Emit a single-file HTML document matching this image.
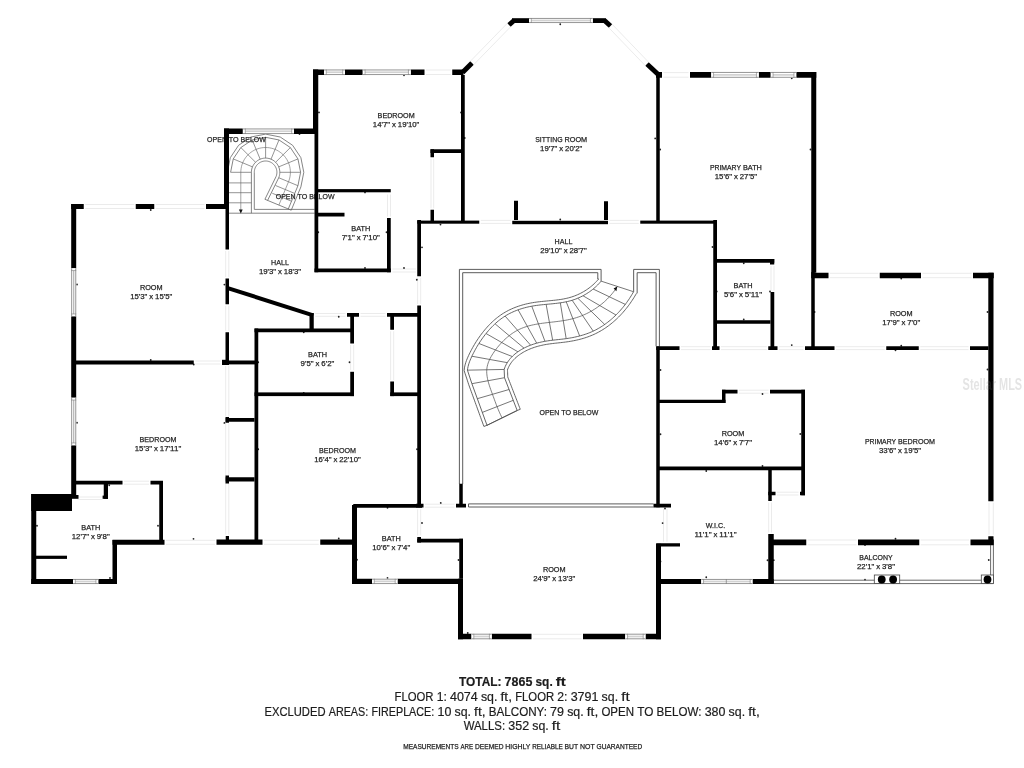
<!DOCTYPE html>
<html lang="en">
<head>
<meta charset="utf-8">
<title>Floor Plan</title>
<style>
html,body{margin:0;padding:0;background:#fff;}
body{width:1024px;height:768px;overflow:hidden;}
svg{display:block;filter:blur(0.4px);}
</style>
</head>
<body>
<svg width="1024" height="768" viewBox="0 0 1024 768">
<rect width="1024" height="768" fill="#fff"/>
<g fill="none" stroke="#e6e6e6" stroke-width="0.8">
<path d="M85.25 204.5H134.25M85.25 208.5H134.25"/>
<path d="M155.75 204.5H204.5M155.75 208.5H204.5"/>
<path d="M225.7 251V277M228.8 251V277"/>
<path d="M225.7 305.75V330.75M228.8 305.75V330.75"/>
<path d="M195.25 361H220.5M195.25 364H220.5"/>
<path d="M225.7 366V416.5M228.8 366V416.5"/>
<path d="M225.7 423.25V475.75M228.8 423.25V475.75"/>
<path d="M225.7 483V534.5M228.8 483V534.5"/>
<path d="M77.5 497H102.5M77.5 499.5H102.5"/>
<path d="M124 481.2H149M124 484.2H149"/>
<path d="M166 540.3H215M166 544.3H215"/>
<path d="M264 540.3H318.75M264 544.3H318.75"/>
<path d="M426 70H450.75M426 74.5H450.75"/>
<path d="M431 158.75V208.25M433.7 158.75V208.25"/>
<path d="M387.5 194.5V216.5M390.5 194.5V216.5"/>
<path d="M392.5 269H416M392.5 272H416"/>
<path d="M417.6 277.75V304M420.7 277.75V304"/>
<path d="M315.25 313.5H345.5M315.25 316.3H345.5"/>
<path d="M360.5 313.5H385.5M360.5 316.3H385.5"/>
<path d="M350.6 345V370M353.7 345V370"/>
<path d="M390.6 331.25V380M393.7 331.25V380"/>
<path d="M417.6 509.25V535.5M420.7 509.25V535.5"/>
<path d="M480.75 220.4H510.75M480.75 223.4H510.75"/>
<path d="M609.5 220.4H638.75M609.5 223.4H638.75"/>
<path d="M663.5 72.6H688.5M663.5 77.2H688.5"/>
<path d="M771 266V290.5M774 266V290.5"/>
<path d="M681 346.7H710.5M681 349.6H710.5"/>
<path d="M721 346.7H766.75M721 349.6H766.75"/>
<path d="M779 346.7H803.5M779 349.6H803.5"/>
<path d="M836 346.7H884.75M836 349.6H884.75"/>
<path d="M920.25 346.7H968.5M920.25 349.6H968.5"/>
<path d="M830 273.3H878.25M830 277.7H878.25"/>
<path d="M922.5 273.3H971.5M922.5 277.7H971.5"/>
<path d="M989 502.75V534.75M993.3 502.75V534.75"/>
<path d="M739 390.2H768.5M739 393.2H768.5"/>
<path d="M777 492.2H798.5M777 495H798.5"/>
<path d="M768.7 502.5V532.5M771.5 502.5V532.5"/>
<path d="M663.5 508.75V541.75M667 508.75V541.75"/>
<path d="M807.75 540H856.5M807.75 544.8H856.5"/>
<path d="M920.75 540H969M920.75 544.8H969"/>
<path d="M533 634.3H581.5M533 638.8H581.5"/>
<path d="M425 504.2H454.5M425 507.2H454.5"/>
</g>
<g fill="none" stroke="#4a4a4a" stroke-linejoin="round"><path d="M601.11 281.14L633.57 291.72M593.14 289.03L625.27 304.4M582.98 295.75L615.97 315M577.81 298.21L604.68 324.46M572.13 300.27L593.22 331.12M566.24 301.79L579.65 335.96M560.32 302.83L566.18 338.63M546.14 304.36L552.67 340.2M531.78 306.18L544.97 341.31M518.14 309.83L536.71 343.18M505.11 316.08L530.6 345.18M495.06 323.8L523.97 348.12M486.04 333.53L517.93 351.77M478.93 343.49L512.22 356.5M471.91 356.23L507.27 362.65M467.45 370.17L504.17 369.44M471.9 383.7L504.5 377.7M477.34 398.68L509.07 389.51M482.32 412.4L513.26 400.33M487 425.3L517.2 410.5" stroke-width="0.75"/><path d="M617.46 286.39 L616.45 287.93 L615.4 289.44 L614.32 290.92 L613.2 292.37 L612.05 293.78 L610.87 295.17 L609.66 296.53 L608.41 297.85 L607.14 299.14 L605.83 300.4 L604.5 301.63 L603.14 302.82 L601.75 303.98 L600.34 305.11 L598.9 306.2 L597.43 307.26 L595.95 308.28 L594.43 309.26 L592.9 310.21 L591.34 311.12 L589.77 312 L588.17 312.84 L586.55 313.64 L584.92 314.4 L583.27 315.12 L581.6 315.81 L579.91 316.45 L578.21 317.06 L576.49 317.62 L574.76 318.15 L573.02 318.63 L571.26 319.08 L569.5 319.48 L567.72 319.85 L565.93 320.19 L564.14 320.5 L562.34 320.79 L560.53 321.05 L558.72 321.3 L556.9 321.53 L555.08 321.75 L553.26 321.97 L551.44 322.18 L549.63 322.38 L547.81 322.59 L546 322.81 L544.19 323.04 L542.39 323.27 L540.59 323.53 L538.8 323.8 L537.02 324.1 L535.26 324.42 L533.5 324.77 L531.75 325.15 L530.02 325.57 L528.3 326.03 L526.6 326.53 L524.91 327.08 L523.25 327.68 L521.6 328.33 L519.97 329.04 L518.36 329.8 L516.78 330.63 L515.22 331.52 L513.68 332.47 L512.17 333.48 L510.68 334.54 L509.22 335.65 L507.79 336.81 L506.39 338.02 L505.01 339.26 L503.67 340.55 L502.35 341.87 L501.07 343.23 L499.82 344.62 L498.61 346.03 L497.43 347.47 L496.28 348.94 L495.17 350.42 L494.1 351.92 L493.07 353.44 L492.09 354.97 L491.17 356.52 L490.31 358.09 L489.52 359.68 L488.82 361.29 L488.21 362.92 L487.69 364.57 L487.27 366.24 L486.96 367.94 L486.78 369.66 L486.71 371.4 L486.76 373.16 L486.92 374.94 L487.16 376.73 L487.49 378.54 L487.9 380.35 L488.36 382.16 L488.88 383.97 L489.45 385.78 L490.05 387.58 L490.67 389.36 L491.31 391.14 L491.95 392.89 L492.59 394.62 L493.21 396.33 L493.83 398.02 L494.44 399.7 L495.05 401.36 L495.66 403 L496.28 404.64 L496.92 406.28 L497.57 407.92 L498.25 409.55 L498.94 411.2 L499.67 412.85 L500.44 414.52 L501.24 416.2 L502.08 417.9" stroke-width="0.7"/><path d="M601.11 281.14 L600 282.44 L598.85 283.72 L597.65 284.96 L596.41 286.16 L595.13 287.33 L593.82 288.47 L592.47 289.57 L591.08 290.64 L589.66 291.66 L588.22 292.65 L586.74 293.59 L585.24 294.5 L583.71 295.36 L582.16 296.18 L580.59 296.96 L579 297.69 L577.4 298.38 L575.78 299.02 L574.14 299.61 L572.5 300.16 L570.84 300.65 L569.18 301.1 L567.51 301.51 L565.83 301.87 L564.14 302.2 L562.45 302.5 L560.75 302.77 L559.04 303.01 L557.33 303.23 L555.62 303.43 L553.9 303.62 L552.17 303.8 L550.45 303.96 L548.72 304.12 L546.99 304.28 L545.26 304.45 L543.52 304.62 L541.79 304.79 L540.06 304.98 L538.33 305.19 L536.6 305.42 L534.87 305.67 L533.14 305.94 L531.42 306.25 L529.7 306.59 L527.98 306.96 L526.27 307.37 L524.57 307.81 L522.88 308.28 L521.2 308.79 L519.53 309.34 L517.88 309.92 L516.24 310.54 L514.62 311.2 L513.02 311.89 L511.44 312.62 L509.88 313.39 L508.35 314.2 L506.84 315.05 L505.35 315.93 L503.89 316.86 L502.47 317.83 L501.06 318.83 L499.69 319.87 L498.34 320.95 L497.02 322.06 L495.72 323.2 L494.45 324.37 L493.2 325.57 L491.98 326.8 L490.78 328.05 L489.61 329.33 L488.46 330.63 L487.33 331.96 L486.22 333.31 L485.14 334.67 L484.08 336.06 L483.04 337.46 L482.02 338.88 L481.02 340.32 L480.05 341.77 L479.1 343.23 L478.17 344.71 L477.26 346.2 L476.38 347.71 L475.52 349.23 L474.68 350.75 L473.87 352.29 L473.08 353.83 L472.31 355.39 L471.57 356.95 L470.86 358.52 L470.18 360.1 L469.55 361.7 L468.98 363.33 L468.47 364.99 L468.05 366.67 L467.7 368.4 L467.45 370.17 L471.9 383.7 L487 425.3" stroke-width="0.85"/><path d="M633.57 291.72 L632.79 293.1 L631.99 294.46 L631.16 295.82 L630.32 297.17 L629.45 298.51 L628.55 299.84 L627.64 301.16 L626.71 302.47 L625.75 303.77 L624.77 305.05 L623.77 306.32 L622.75 307.57 L621.71 308.81 L620.65 310.04 L619.57 311.24 L618.48 312.43 L617.36 313.6 L616.22 314.75 L615.06 315.88 L613.88 316.99 L612.69 318.08 L611.48 319.15 L610.25 320.19 L609 321.21 L607.73 322.21 L606.45 323.18 L605.15 324.13 L603.83 325.05 L602.49 325.94 L601.14 326.8 L599.77 327.64 L598.39 328.44 L596.99 329.22 L595.58 329.96 L594.15 330.67 L592.7 331.35 L591.25 332 L589.77 332.62 L588.29 333.2 L586.79 333.75 L585.28 334.28 L583.76 334.77 L582.23 335.24 L580.69 335.68 L579.14 336.1 L577.59 336.49 L576.02 336.85 L574.45 337.2 L572.88 337.52 L571.3 337.81 L569.72 338.09 L568.14 338.34 L566.55 338.58 L564.96 338.8 L563.37 339 L561.78 339.19 L560.19 339.37 L558.6 339.54 L557.01 339.71 L555.42 339.89 L553.82 340.07 L552.23 340.25 L550.64 340.45 L549.05 340.67 L547.46 340.9 L545.87 341.15 L544.29 341.43 L542.7 341.74 L541.12 342.08 L539.55 342.44 L537.98 342.84 L536.42 343.26 L534.87 343.72 L533.33 344.22 L531.8 344.74 L530.29 345.3 L528.79 345.9 L527.31 346.53 L525.85 347.19 L524.41 347.9 L523 348.64 L521.6 349.42 L520.23 350.25 L518.89 351.11 L517.58 352.02 L516.29 352.96 L515.04 353.95 L513.83 354.99 L512.66 356.07 L511.54 357.19 L510.46 358.36 L509.45 359.58 L508.49 360.84 L507.59 362.15 L506.76 363.51 L505.99 364.92 L505.31 366.37 L504.7 367.88 L504.17 369.44 L504.5 377.7 L517.2 410.5" stroke-width="0.85"/><path d="M598.6 279 L597.53 280.26 L596.44 281.46 L595.31 282.63 L594.15 283.76 L592.94 284.87 L591.7 285.94 L590.42 286.98 L589.11 287.99 L587.77 288.96 L586.4 289.89 L585 290.79 L583.57 291.65 L582.13 292.47 L580.66 293.24 L579.17 293.98 L577.66 294.67 L576.14 295.33 L574.61 295.93 L573.06 296.49 L571.51 297.01 L569.94 297.48 L568.36 297.9 L566.77 298.29 L565.16 298.64 L563.54 298.96 L561.9 299.25 L560.26 299.51 L558.6 299.74 L556.93 299.96 L555.24 300.16 L553.55 300.34 L551.85 300.51 L550.13 300.68 L548.41 300.84 L546.68 301 L544.94 301.16 L543.2 301.33 L541.44 301.51 L539.68 301.71 L537.92 301.92 L536.15 302.15 L534.37 302.4 L532.59 302.69 L530.81 303 L529.03 303.36 L527.25 303.74 L525.48 304.16 L523.71 304.62 L521.95 305.12 L520.21 305.65 L518.47 306.22 L516.75 306.82 L515.04 307.47 L513.35 308.15 L511.67 308.88 L510.02 309.64 L508.38 310.45 L506.77 311.3 L505.18 312.19 L503.62 313.13 L502.08 314.1 L500.58 315.12 L499.11 316.17 L497.66 317.27 L496.25 318.39 L494.87 319.55 L493.51 320.74 L492.19 321.97 L490.89 323.22 L489.62 324.49 L488.38 325.8 L487.16 327.12 L485.97 328.47 L484.8 329.84 L483.66 331.23 L482.54 332.64 L481.44 334.07 L480.37 335.51 L479.32 336.98 L478.3 338.46 L477.29 339.95 L476.31 341.46 L475.36 342.98 L474.43 344.51 L473.52 346.06 L472.64 347.62 L471.78 349.19 L470.94 350.76 L470.13 352.35 L469.34 353.95 L468.58 355.56 L467.84 357.19 L467.13 358.85 L466.46 360.55 L465.84 362.3 L465.3 364.1 L464.83 365.95 L464.45 367.85 L464.17 370.51 L464.95 373.13 L465.59 375.07 L466.22 377 L466.86 378.93 L467.49 380.87 L468.13 382.8 L468.78 384.78 L469.59 387.02 L470.39 389.2 L471.18 391.39 L471.98 393.58 L472.77 395.77 L473.57 397.96 L474.36 400.15 L475.16 402.34 L475.95 404.53 L476.75 406.72 L477.54 408.91 L478.33 411.1 L479.13 413.29 L479.92 415.48 L480.72 417.67 L481.51 419.86 L482.31 422.05 L483.1 424.24 L483.9 426.43" stroke-width="0.85"/><path d="M636.44 293.35 L635.65 294.75 L634.82 296.16 L633.97 297.56 L633.1 298.95 L632.2 300.33 L631.28 301.7 L630.34 303.06 L629.38 304.41 L628.39 305.75 L627.38 307.07 L626.35 308.38 L625.3 309.68 L624.23 310.95 L623.13 312.22 L622.02 313.46 L620.88 314.69 L619.72 315.9 L618.54 317.09 L617.35 318.26 L616.13 319.41 L614.89 320.54 L613.63 321.65 L612.36 322.73 L611.06 323.79 L609.75 324.82 L608.41 325.83 L607.06 326.82 L605.69 327.77 L604.3 328.7 L602.89 329.6 L601.47 330.47 L600.02 331.31 L598.56 332.12 L597.08 332.9 L595.59 333.64 L594.08 334.36 L592.55 335.03 L591.01 335.67 L589.46 336.28 L587.9 336.86 L586.33 337.41 L584.75 337.92 L583.17 338.41 L581.57 338.86 L579.97 339.29 L578.36 339.7 L576.75 340.07 L575.13 340.43 L573.51 340.75 L571.89 341.06 L570.27 341.34 L568.64 341.6 L567.02 341.85 L565.39 342.07 L563.77 342.27 L562.16 342.46 L560.56 342.65 L558.96 342.82 L557.36 342.99 L555.78 343.17 L554.2 343.34 L552.63 343.53 L551.07 343.72 L549.51 343.93 L547.96 344.16 L546.42 344.41 L544.89 344.68 L543.36 344.97 L541.84 345.3 L540.33 345.65 L538.82 346.03 L537.32 346.44 L535.84 346.88 L534.37 347.35 L532.91 347.85 L531.47 348.38 L530.05 348.95 L528.65 349.54 L527.27 350.18 L525.91 350.84 L524.57 351.54 L523.26 352.28 L521.98 353.05 L520.72 353.86 L519.49 354.7 L518.3 355.58 L517.14 356.5 L516.02 357.46 L514.95 358.45 L513.92 359.47 L512.95 360.54 L512.03 361.64 L511.16 362.77 L510.36 363.95 L509.61 365.16 L508.94 366.41 L508.33 367.7 L507.79 369.03 L507.42 370.01 L507.51 370.49 L507.56 371.67 L507.61 372.85 L507.66 374.03 L507.7 375.21 L507.75 376.39 L507.7 376.91 L508.25 378.23 L508.91 379.96 L509.58 381.69 L510.25 383.41 L510.92 385.14 L511.59 386.87 L512.26 388.59 L512.92 390.32 L513.59 392.05 L514.26 393.77 L514.93 395.5 L515.6 397.22 L516.27 398.95 L516.94 400.68 L517.6 402.4 L518.27 404.13 L518.94 405.86 L519.61 407.58 L520.28 409.31" stroke-width="0.85"/><path d="M483.9 426.43L487 425.3L517.2 410.5L520.28 409.31" stroke-width="0.85"/><path d="M459.4 484V269.4H601.1V281.14M462.7 484V272.7H597.8V279M598.6 279L597.8 278.5M633.65 291.72V269.4H659.4V346.3M637.15 293.35V272.7H656.1V346.3M468.5 503.9H653.5M468.5 507H653.5M468.5 503.9V507" stroke-width="0.9"/><path d="M617.2 286.6L613.6 288.4L616.4 291.2Z" fill="#111" stroke="none"/></g>
<g fill="none" stroke="#666" stroke-linejoin="round"><path d="M314.6 209.4H254.3 L254.3 172.3 L254.33 171.41 L254.44 170.53 L254.61 169.66 L254.85 168.81 L255.16 167.98 L255.53 167.17 L255.97 166.4 L256.46 165.66 L257.01 164.96 L257.61 164.31 L258.26 163.71 L258.96 163.16 L259.7 162.67 L260.47 162.23 L261.28 161.86 L262.11 161.55 L262.96 161.31 L263.83 161.14 L264.71 161.03 L265.6 161 L266.49 161.03 L267.37 161.14 L268.24 161.31 L269.09 161.55 L269.92 161.86 L270.73 162.23 L271.5 162.67 L272.24 163.16 L272.94 163.71 L273.59 164.31 L274.19 164.96 L274.74 165.66 L275.23 166.4 L275.67 167.17 L276.04 167.98 L276.35 168.81 L276.59 169.66 L276.76 170.53 L276.87 171.41 L276.9 172.3 L276.87 173.19 L276.76 174.07 L276.59 174.94 L276.35 175.79 L276.04 176.62 L264.92 199.29M229 213.2 H314.6M251.4 213.2 L251.4 172.3 L251.44 171.19 L251.57 170.08 L251.79 168.99 L252.09 167.91 L252.48 166.87 L252.95 165.85 L253.49 164.88 L254.11 163.95 L254.8 163.08 L255.56 162.26 L256.38 161.5 L257.25 160.81 L258.18 160.19 L259.15 159.65 L260.17 159.18 L261.21 158.79 L262.29 158.49 L263.38 158.27 L264.49 158.14 L265.6 158.1 L266.71 158.14 L267.82 158.27 L268.91 158.49 L269.99 158.79 L271.03 159.18 L272.05 159.65 L273.02 160.19 L273.95 160.81 L274.82 161.5 L275.64 162.26 L276.4 163.08 L277.09 163.95 L277.71 164.88 L278.25 165.85 L278.72 166.87 L279.11 167.91 L279.41 168.99 L279.63 170.08 L279.76 171.19 L279.8 172.3 L279.76 173.41 L279.63 174.52 L279.41 175.61 L279.11 176.69 L278.72 177.73 L267.6 200.4M230.6 172.3 L233.26 158.91 L240.85 147.55 L252.21 139.96 L265.6 137.3 L278.99 139.96 L290.35 147.55 L297.94 158.91 L300.6 172.3 L297.94 185.69 L288.29 208.98M227.4 172.3 L230.31 157.68 L238.59 145.29 L250.98 137.01 L265.6 134.1 L280.22 137.01 L292.61 145.29 L300.89 157.68 L303.8 172.3 L300.89 186.92 L291.25 210.2M264.92 199.29L291.25 210.2" stroke-width="0.8"/><path d="M240.8 212.2 L240.8 172.3 L240.88 170.35 L241.11 168.42 L241.49 166.51 L242.01 164.64 L242.69 162.81 L243.5 161.04 L244.45 159.34 L245.54 157.72 L246.74 156.19 L248.06 154.76 L249.49 153.44 L251.02 152.24 L252.64 151.15 L254.34 150.2 L256.11 149.39 L257.94 148.71 L259.81 148.19 L261.72 147.81 L263.65 147.58 L265.6 147.5 L267.55 147.58 L269.48 147.81 L271.39 148.19 L273.26 148.71 L275.09 149.39 L276.86 150.2 L278.56 151.15 L280.18 152.24 L281.71 153.44 L283.14 154.76 L284.46 156.19 L285.66 157.72 L286.75 159.34 L287.7 161.04 L288.51 162.81 L289.19 164.64 L289.71 166.51 L290.09 168.42 L290.32 170.35 L290.4 172.3 L290.32 174.25 L290.09 176.18 L289.71 178.09 L289.19 179.96 L288.51 181.79 L278.87 205.07" stroke-width="0.6"/><path d="M251.4 172.3L230.6 172.3M252.48 166.87L233.26 158.91M255.56 162.26L240.85 147.55M260.17 159.18L252.21 139.96M265.6 158.1L265.6 137.3M271.03 159.18L278.99 139.96M275.64 162.26L290.35 147.55M278.72 166.87L297.94 158.91M279.8 172.3L300.6 172.3M278.72 177.73L297.94 185.69M275.5 185.49L294.72 193.45M272.29 193.26L291.51 201.22M229 182.9H251.4M229 192.7H251.4M229 202.8H251.4" stroke-width="0.7"/><path d="M240.8 213.4l-1.9 -3.9h3.8z" fill="#111" stroke="none"/></g>
<g font-family="'Liberation Sans', 'DejaVu Sans', sans-serif" font-size="8" fill="#242424" stroke="#242424" stroke-width="0.25" stroke-linejoin="round">
<text x="377.61" y="118.15" textLength="36.99" lengthAdjust="spacingAndGlyphs">BEDROOM</text>
<text x="372.87" y="127.3" textLength="17.25" lengthAdjust="spacingAndGlyphs">14'7&quot;</text><text x="392.04" y="127.3" textLength="3.9" lengthAdjust="spacingAndGlyphs">x</text><text x="397.86" y="127.3" textLength="21.47" lengthAdjust="spacingAndGlyphs">19'10&quot;</text>
<text x="535.25" y="141.8" textLength="27.27" lengthAdjust="spacingAndGlyphs">SITTING</text><text x="564.43" y="141.8" textLength="22.72" lengthAdjust="spacingAndGlyphs">ROOM</text>
<text x="540.08" y="150.95" textLength="17.25" lengthAdjust="spacingAndGlyphs">19'7&quot;</text><text x="559.25" y="150.95" textLength="3.9" lengthAdjust="spacingAndGlyphs">x</text><text x="565.07" y="150.95" textLength="17.25" lengthAdjust="spacingAndGlyphs">20'2&quot;</text>
<text x="709.91" y="169.7" textLength="31.09" lengthAdjust="spacingAndGlyphs">PRIMARY</text><text x="742.91" y="169.7" textLength="18.98" lengthAdjust="spacingAndGlyphs">BATH</text>
<text x="714.78" y="178.85" textLength="17.25" lengthAdjust="spacingAndGlyphs">15'6&quot;</text><text x="733.95" y="178.85" textLength="3.9" lengthAdjust="spacingAndGlyphs">x</text><text x="739.77" y="178.85" textLength="17.25" lengthAdjust="spacingAndGlyphs">27'5&quot;</text>
<text x="351.26" y="230.9" textLength="18.98" lengthAdjust="spacingAndGlyphs">BATH</text>
<text x="341.74" y="240.05" textLength="13.03" lengthAdjust="spacingAndGlyphs">7'1&quot;</text><text x="356.69" y="240.05" textLength="3.9" lengthAdjust="spacingAndGlyphs">x</text><text x="362.51" y="240.05" textLength="17.25" lengthAdjust="spacingAndGlyphs">7'10&quot;</text>
<text x="271.11" y="264.5" textLength="17.78" lengthAdjust="spacingAndGlyphs">HALL</text>
<text x="258.88" y="273.65" textLength="17.25" lengthAdjust="spacingAndGlyphs">19'3&quot;</text><text x="278.05" y="273.65" textLength="3.9" lengthAdjust="spacingAndGlyphs">x</text><text x="283.87" y="273.65" textLength="17.25" lengthAdjust="spacingAndGlyphs">18'3&quot;</text>
<text x="554.61" y="243.8" textLength="17.78" lengthAdjust="spacingAndGlyphs">HALL</text>
<text x="540.27" y="252.95" textLength="21.47" lengthAdjust="spacingAndGlyphs">29'10&quot;</text><text x="563.66" y="252.95" textLength="3.9" lengthAdjust="spacingAndGlyphs">x</text><text x="569.48" y="252.95" textLength="17.25" lengthAdjust="spacingAndGlyphs">28'7&quot;</text>
<text x="139.89" y="289.5" textLength="22.72" lengthAdjust="spacingAndGlyphs">ROOM</text>
<text x="130.13" y="298.65" textLength="17.25" lengthAdjust="spacingAndGlyphs">15'3&quot;</text><text x="149.3" y="298.65" textLength="3.9" lengthAdjust="spacingAndGlyphs">x</text><text x="155.12" y="298.65" textLength="17.25" lengthAdjust="spacingAndGlyphs">15'5&quot;</text>
<text x="733.51" y="288" textLength="18.98" lengthAdjust="spacingAndGlyphs">BATH</text>
<text x="723.99" y="297.15" textLength="13.03" lengthAdjust="spacingAndGlyphs">5'6&quot;</text><text x="738.94" y="297.15" textLength="3.9" lengthAdjust="spacingAndGlyphs">x</text><text x="744.76" y="297.15" textLength="17.25" lengthAdjust="spacingAndGlyphs">5'11&quot;</text>
<text x="889.89" y="315.5" textLength="22.72" lengthAdjust="spacingAndGlyphs">ROOM</text>
<text x="882.24" y="324.65" textLength="17.25" lengthAdjust="spacingAndGlyphs">17'9&quot;</text><text x="901.41" y="324.65" textLength="3.9" lengthAdjust="spacingAndGlyphs">x</text><text x="907.23" y="324.65" textLength="13.03" lengthAdjust="spacingAndGlyphs">7'0&quot;</text>
<text x="308.01" y="356.9" textLength="18.98" lengthAdjust="spacingAndGlyphs">BATH</text>
<text x="300.6" y="366.05" textLength="13.03" lengthAdjust="spacingAndGlyphs">9'5&quot;</text><text x="315.55" y="366.05" textLength="3.9" lengthAdjust="spacingAndGlyphs">x</text><text x="321.37" y="366.05" textLength="13.03" lengthAdjust="spacingAndGlyphs">6'2&quot;</text>
<text x="139.51" y="442.2" textLength="36.99" lengthAdjust="spacingAndGlyphs">BEDROOM</text>
<text x="134.77" y="451.35" textLength="17.25" lengthAdjust="spacingAndGlyphs">15'3&quot;</text><text x="153.94" y="451.35" textLength="3.9" lengthAdjust="spacingAndGlyphs">x</text><text x="159.76" y="451.35" textLength="21.47" lengthAdjust="spacingAndGlyphs">17'11&quot;</text>
<text x="319.01" y="453.2" textLength="36.99" lengthAdjust="spacingAndGlyphs">BEDROOM</text>
<text x="314.27" y="462.35" textLength="17.25" lengthAdjust="spacingAndGlyphs">16'4&quot;</text><text x="333.44" y="462.35" textLength="3.9" lengthAdjust="spacingAndGlyphs">x</text><text x="339.26" y="462.35" textLength="21.47" lengthAdjust="spacingAndGlyphs">22'10&quot;</text>
<text x="721.64" y="435.5" textLength="22.72" lengthAdjust="spacingAndGlyphs">ROOM</text>
<text x="713.99" y="444.65" textLength="17.25" lengthAdjust="spacingAndGlyphs">14'6&quot;</text><text x="733.16" y="444.65" textLength="3.9" lengthAdjust="spacingAndGlyphs">x</text><text x="738.98" y="444.65" textLength="13.03" lengthAdjust="spacingAndGlyphs">7'7&quot;</text>
<text x="865" y="444.2" textLength="31.09" lengthAdjust="spacingAndGlyphs">PRIMARY</text><text x="898.01" y="444.2" textLength="36.99" lengthAdjust="spacingAndGlyphs">BEDROOM</text>
<text x="878.88" y="453.35" textLength="17.25" lengthAdjust="spacingAndGlyphs">33'6&quot;</text><text x="898.05" y="453.35" textLength="3.9" lengthAdjust="spacingAndGlyphs">x</text><text x="903.87" y="453.35" textLength="17.25" lengthAdjust="spacingAndGlyphs">19'5&quot;</text>
<text x="81.26" y="529.7" textLength="18.98" lengthAdjust="spacingAndGlyphs">BATH</text>
<text x="71.74" y="538.85" textLength="17.25" lengthAdjust="spacingAndGlyphs">12'7&quot;</text><text x="90.91" y="538.85" textLength="3.9" lengthAdjust="spacingAndGlyphs">x</text><text x="96.73" y="538.85" textLength="13.03" lengthAdjust="spacingAndGlyphs">9'8&quot;</text>
<text x="381.76" y="541.1" textLength="18.98" lengthAdjust="spacingAndGlyphs">BATH</text>
<text x="372.24" y="550.25" textLength="17.25" lengthAdjust="spacingAndGlyphs">10'6&quot;</text><text x="391.41" y="550.25" textLength="3.9" lengthAdjust="spacingAndGlyphs">x</text><text x="397.23" y="550.25" textLength="13.03" lengthAdjust="spacingAndGlyphs">7'4&quot;</text>
<text x="705.78" y="527.8" textLength="19.44" lengthAdjust="spacingAndGlyphs">W.I.C.</text>
<text x="694.38" y="536.95" textLength="17.25" lengthAdjust="spacingAndGlyphs">11'1&quot;</text><text x="713.55" y="536.95" textLength="3.9" lengthAdjust="spacingAndGlyphs">x</text><text x="719.37" y="536.95" textLength="17.25" lengthAdjust="spacingAndGlyphs">11'1&quot;</text>
<text x="542.89" y="572.2" textLength="22.72" lengthAdjust="spacingAndGlyphs">ROOM</text>
<text x="533.13" y="581.35" textLength="17.25" lengthAdjust="spacingAndGlyphs">24'9&quot;</text><text x="552.3" y="581.35" textLength="3.9" lengthAdjust="spacingAndGlyphs">x</text><text x="558.12" y="581.35" textLength="17.25" lengthAdjust="spacingAndGlyphs">13'3&quot;</text>
<text x="859.31" y="559.7" textLength="33.38" lengthAdjust="spacingAndGlyphs">BALCONY</text>
<text x="856.99" y="568.85" textLength="17.25" lengthAdjust="spacingAndGlyphs">22'1&quot;</text><text x="876.16" y="568.85" textLength="3.9" lengthAdjust="spacingAndGlyphs">x</text><text x="881.98" y="568.85" textLength="13.03" lengthAdjust="spacingAndGlyphs">3'8&quot;</text>
<text x="207.09" y="141.5" textLength="19.86" lengthAdjust="spacingAndGlyphs">OPEN</text><text x="228.87" y="141.5" textLength="9.83" lengthAdjust="spacingAndGlyphs">TO</text><text x="240.61" y="141.5" textLength="25.3" lengthAdjust="spacingAndGlyphs">BELOW</text>
<text x="275.69" y="198.6" textLength="19.86" lengthAdjust="spacingAndGlyphs">OPEN</text><text x="297.47" y="198.6" textLength="9.83" lengthAdjust="spacingAndGlyphs">TO</text><text x="309.21" y="198.6" textLength="25.3" lengthAdjust="spacingAndGlyphs">BELOW</text>
<text x="539.49" y="414.7" textLength="19.86" lengthAdjust="spacingAndGlyphs">OPEN</text><text x="561.27" y="414.7" textLength="9.83" lengthAdjust="spacingAndGlyphs">TO</text><text x="573.01" y="414.7" textLength="25.3" lengthAdjust="spacingAndGlyphs">BELOW</text>
</g>
<g fill="#222"><circle cx="404" cy="75.3" r="0.9"/><circle cx="319" cy="112.4" r="0.9"/><circle cx="299.5" cy="134" r="0.9"/><circle cx="150.75" cy="210" r="0.9"/><circle cx="77" cy="284.5" r="0.9"/><circle cx="224.4" cy="284.6" r="0.9"/><circle cx="150.75" cy="360" r="0.9"/><circle cx="193.75" cy="364.5" r="0.9"/><circle cx="77" cy="422.75" r="0.9"/><circle cx="224.4" cy="422.9" r="0.9"/><circle cx="109.25" cy="485.25" r="0.9"/><circle cx="37" cy="525.75" r="0.9"/><circle cx="158" cy="525.75" r="0.9"/><circle cx="193.5" cy="538.8" r="0.9"/><circle cx="110" cy="578" r="0.9"/><circle cx="365" cy="192.4" r="0.9"/><circle cx="318.3" cy="232.25" r="0.9"/><circle cx="386.5" cy="232.25" r="0.9"/><circle cx="365" cy="268" r="0.9"/><circle cx="404" cy="268" r="0.9"/><circle cx="422" cy="247.3" r="0.9"/><circle cx="440.5" cy="224.6" r="0.9"/><circle cx="416.8" cy="279.75" r="0.9"/><circle cx="338.75" cy="316.75" r="0.9"/><circle cx="303.75" cy="332.25" r="0.9"/><circle cx="258.25" cy="362.25" r="0.9"/><circle cx="349.5" cy="362.25" r="0.9"/><circle cx="303.75" cy="392.9" r="0.9"/><circle cx="258.25" cy="449.25" r="0.9"/><circle cx="417" cy="449.25" r="0.9"/><circle cx="338.75" cy="538.5" r="0.9"/><circle cx="387.5" cy="507.75" r="0.9"/><circle cx="440.75" cy="502.9" r="0.9"/><circle cx="422" cy="523" r="0.9"/><circle cx="357" cy="559.75" r="0.9"/><circle cx="387.5" cy="578" r="0.9"/><circle cx="560.25" cy="24.25" r="0.9"/><circle cx="461" cy="112.5" r="0.9"/><circle cx="464.75" cy="138" r="0.9"/><circle cx="655.2" cy="138.4" r="0.9"/><circle cx="660.2" cy="149.5" r="0.9"/><circle cx="560.25" cy="219.5" r="0.9"/><circle cx="660.5" cy="370" r="0.9"/><circle cx="660.5" cy="434.25" r="0.9"/><circle cx="458.5" cy="560" r="0.9"/><circle cx="660.5" cy="561.5" r="0.9"/><circle cx="467.75" cy="633" r="0.9"/><circle cx="662.6" cy="523.1" r="0.9"/><circle cx="791.75" cy="78.25" r="0.9"/><circle cx="810.5" cy="149.5" r="0.9"/><circle cx="712.5" cy="247" r="0.9"/><circle cx="743.75" cy="263.25" r="0.9"/><circle cx="716.75" cy="291.5" r="0.9"/><circle cx="770" cy="291.5" r="0.9"/><circle cx="743.75" cy="319.5" r="0.9"/><circle cx="791.75" cy="345.1" r="0.9"/><circle cx="814.6" cy="312" r="0.9"/><circle cx="901.25" cy="278.5" r="0.9"/><circle cx="987.5" cy="312" r="0.9"/><circle cx="901.25" cy="345.75" r="0.9"/><circle cx="895.5" cy="350.25" r="0.9"/><circle cx="987.5" cy="369.5" r="0.9"/><circle cx="800.3" cy="434" r="0.9"/><circle cx="895.5" cy="538.75" r="0.9"/><circle cx="865" cy="545" r="0.9"/><circle cx="773.8" cy="560.2" r="0.9"/><circle cx="988.75" cy="560" r="0.9"/><circle cx="865" cy="579.6" r="0.9"/><circle cx="762.5" cy="394" r="0.9"/><circle cx="762.5" cy="466" r="0.9"/><circle cx="706.25" cy="471" r="0.9"/><circle cx="665" cy="508.5" r="0.9"/><circle cx="767.5" cy="560.25" r="0.9"/><circle cx="706.25" cy="577.25" r="0.9"/></g>
<g fill="#000">
<rect x="71.2" y="204" width="5" height="64.25"/>
<rect x="71.2" y="316.25" width="5" height="81.5"/>
<rect x="71.2" y="445.25" width="5" height="52.5"/>
<rect x="71.2" y="204" width="12.55" height="5"/>
<rect x="135.75" y="204" width="18.5" height="5"/>
<rect x="206" y="204" width="23" height="5"/>
<rect x="224" y="128.5" width="5" height="80.5"/>
<rect x="225.5" y="209" width="3.5" height="40.5"/>
<rect x="225.5" y="278.5" width="3.5" height="25.75"/>
<rect x="225.5" y="332.25" width="3.5" height="32.25"/>
<rect x="76" y="360.5" width="117.75" height="4"/>
<rect x="222" y="360.5" width="34.5" height="3.9"/>
<rect x="225.75" y="418" width="28.75" height="3.75"/>
<rect x="225.75" y="477.25" width="28.75" height="4.25"/>
<rect x="225.5" y="417" width="3.5" height="5.75"/>
<rect x="225.5" y="475.5" width="3.5" height="8"/>
<rect x="222" y="359.8" width="7" height="5.2"/>
<rect x="216.5" y="539.5" width="46" height="5.25"/>
<rect x="225.75" y="536" width="3.25" height="4"/>
<rect x="76" y="480.75" width="46.5" height="3.75"/>
<rect x="150.5" y="480.75" width="12.5" height="3.75"/>
<rect x="159.25" y="481" width="3.75" height="63"/>
<rect x="103.75" y="484" width="4.25" height="14.8"/>
<rect x="102.6" y="495.6" width="5.4" height="3.2"/>
<rect x="71.2" y="495" width="7.3" height="3.8"/>
<rect x="31.25" y="494" width="40.75" height="17"/>
<rect x="31.25" y="494" width="5" height="90"/>
<rect x="36" y="555.7" width="31" height="3.2"/>
<rect x="112.5" y="539.75" width="52" height="5"/>
<rect x="112.5" y="540" width="4.5" height="44"/>
<rect x="31.25" y="579" width="41.75" height="5"/>
<rect x="98.25" y="579" width="18.75" height="5"/>
<rect x="224" y="128.5" width="18.75" height="5.5"/>
<rect x="294" y="128.5" width="24" height="5.5"/>
<rect x="313" y="69.5" width="5.25" height="64.5"/>
<rect x="314.5" y="134" width="3.75" height="138.25"/>
<rect x="313" y="69.5" width="11" height="5.5"/>
<rect x="345" y="69.5" width="17.75" height="5.5"/>
<rect x="410.75" y="69.5" width="13.75" height="5.5"/>
<rect x="452.25" y="69.5" width="11.25" height="5.5"/>
<rect x="318" y="189.1" width="72.75" height="3.2"/>
<rect x="318" y="212.75" width="26.5" height="3.75"/>
<rect x="387" y="218" width="3.75" height="54.25"/>
<rect x="314.5" y="268.5" width="76.25" height="3.75"/>
<rect x="430.5" y="149.25" width="30.5" height="3.75"/>
<rect x="430.5" y="149.25" width="3.5" height="8"/>
<rect x="430.5" y="209.75" width="3.5" height="11.25"/>
<rect x="461" y="75" width="3.75" height="146"/>
<rect x="417.25" y="220" width="3.75" height="56.25"/>
<rect x="417.25" y="305.5" width="3.75" height="200"/>
<rect x="417.25" y="220.6" width="62" height="3.1"/>
<rect x="512.25" y="220.8" width="95.75" height="3.4"/>
<rect x="640.25" y="220.6" width="76.75" height="3.1"/>
<rect x="514" y="200.75" width="4" height="19.25"/>
<rect x="604" y="201.25" width="4" height="18.75"/>
<rect x="309.5" y="313" width="4.25" height="16.75"/>
<rect x="347" y="313" width="12" height="3.75"/>
<rect x="387" y="313" width="34" height="3.75"/>
<rect x="254.5" y="328.5" width="99.5" height="3.75"/>
<rect x="254.5" y="328.5" width="3.75" height="212"/>
<rect x="350.25" y="313" width="3.75" height="30.5"/>
<rect x="350.25" y="371.8" width="3.75" height="24.3"/>
<rect x="254.5" y="392.4" width="99.5" height="3.7"/>
<rect x="390.25" y="313" width="3.75" height="16.75"/>
<rect x="390.25" y="381.5" width="3.75" height="14.6"/>
<rect x="390.25" y="392.4" width="30.75" height="3.7"/>
<rect x="320.25" y="539.5" width="31.75" height="5.25"/>
<rect x="353.25" y="504" width="68.75" height="3.75"/>
<rect x="352" y="505" width="5" height="78.5"/>
<rect x="352" y="578.75" width="20" height="5.25"/>
<rect x="397.5" y="578.75" width="65.5" height="5.25"/>
<rect x="417.25" y="538.75" width="45.75" height="3.75"/>
<rect x="417.25" y="537" width="3.75" height="5.5"/>
<rect x="459.25" y="538.75" width="3.75" height="40"/>
<rect x="458" y="578.75" width="5" height="60.5"/>
<rect x="458" y="633.75" width="13.5" height="5.5"/>
<rect x="491.75" y="633.75" width="39.75" height="5.5"/>
<rect x="583" y="633.75" width="42.25" height="5.5"/>
<rect x="645.5" y="633.75" width="15.5" height="5.5"/>
<rect x="656" y="543.75" width="5" height="95.5"/>
<rect x="656.25" y="543.25" width="23.75" height="3.25"/>
<rect x="416" y="503.75" width="7.5" height="3.75"/>
<rect x="456" y="503.75" width="10" height="3.75"/>
<rect x="653.5" y="503.75" width="17.5" height="3.75"/>
<rect x="459.25" y="483.75" width="3.5" height="23.25"/>
<rect x="512" y="18.2" width="17" height="4.8"/>
<rect x="592.75" y="18.2" width="13.25" height="4.8"/>
<rect x="656.25" y="75" width="3.5" height="146"/>
<rect x="656" y="72" width="6" height="5.75"/>
<rect x="690" y="72" width="21.25" height="5.75"/>
<rect x="758.75" y="72" width="12" height="5.75"/>
<rect x="796.25" y="72" width="20" height="5.75"/>
<rect x="811.25" y="72" width="5" height="200.75"/>
<rect x="811.25" y="272" width="3.5" height="77.75"/>
<rect x="713.25" y="220" width="3.75" height="129.5"/>
<rect x="717" y="259" width="57.25" height="3.75"/>
<rect x="770" y="259" width="4.25" height="5.5"/>
<rect x="770.5" y="292" width="3.75" height="57.5"/>
<rect x="717" y="320.25" width="53.5" height="3.5"/>
<rect x="656.25" y="346.25" width="23.25" height="3.75"/>
<rect x="712" y="346.25" width="7.5" height="3.75"/>
<rect x="768.25" y="346.25" width="9.25" height="3.75"/>
<rect x="805" y="346.25" width="29.5" height="3.75"/>
<rect x="886.25" y="346.25" width="32.5" height="3.75"/>
<rect x="970" y="346.25" width="18.5" height="3.75"/>
<rect x="811.25" y="272.75" width="17.25" height="5.5"/>
<rect x="879.75" y="272.75" width="41.25" height="5.5"/>
<rect x="973" y="272.75" width="20.75" height="5.5"/>
<rect x="988.3" y="272.75" width="5.2" height="228.5"/>
<rect x="988.3" y="536.25" width="5.2" height="8.75"/>
<rect x="656.25" y="346.5" width="3.5" height="160.75"/>
<rect x="659" y="399.75" width="66.5" height="3.25"/>
<rect x="722" y="389.75" width="3.5" height="13.25"/>
<rect x="722" y="389.75" width="15.5" height="3.75"/>
<rect x="770" y="389.75" width="35" height="3.75"/>
<rect x="801.25" y="389.75" width="3.75" height="105.5"/>
<rect x="659" y="466.5" width="146" height="3.75"/>
<rect x="768.25" y="470" width="3.5" height="31"/>
<rect x="768.25" y="491.75" width="7.25" height="3.5"/>
<rect x="800" y="491.75" width="5" height="3.5"/>
<rect x="660" y="579" width="41.25" height="5"/>
<rect x="752.5" y="579" width="21.25" height="5"/>
<rect x="768.25" y="534" width="5.5" height="50"/>
<rect x="773" y="539.5" width="33.25" height="5.75"/>
<rect x="858" y="539.5" width="61.25" height="5.75"/>
<rect x="970.5" y="539.5" width="23.25" height="5.75"/>
</g>
<g stroke="#000" stroke-linecap="butt" fill="none">
<line x1="227" y1="287.85" x2="313.25" y2="315.3" stroke-width="4"/>
<line x1="462.5" y1="72.5" x2="472" y2="63" stroke-width="5"/>
<line x1="509" y1="25" x2="514" y2="20.5" stroke-width="5"/>
<line x1="604.5" y1="20.5" x2="610.5" y2="26" stroke-width="5"/>
<line x1="647" y1="64" x2="658.5" y2="74.8" stroke-width="5"/>
</g>
<g stroke="#e6e6e6" stroke-width="0.8" fill="none">
<line x1="470.28" y1="61.33" x2="507.28" y2="23.33"/>
<line x1="473.72" y1="64.67" x2="510.72" y2="26.67"/>
<line x1="612.23" y1="24.34" x2="648.73" y2="62.34"/>
<line x1="608.77" y1="27.66" x2="645.27" y2="65.66"/>
</g>
<g>
<rect x="71.2" y="268.25" width="5" height="48" fill="#fff"/>
<rect x="73.1" y="270.55" width="1.2" height="43.4" fill="#b4b4b4"/>
<path d="M71.65 268.25V316.25M75.75 268.25V316.25" stroke="#8a8a8a" stroke-width="0.9"/>
<path d="M71.2 270.55H76.2M71.2 313.95H76.2" stroke="#7a7a7a" stroke-width="0.6"/>
<rect x="71.2" y="397.75" width="5" height="47.5" fill="#fff"/>
<rect x="73.1" y="400.05" width="1.2" height="42.9" fill="#b4b4b4"/>
<path d="M71.65 397.75V445.25M75.75 397.75V445.25" stroke="#8a8a8a" stroke-width="0.9"/>
<path d="M71.2 400.05H76.2M71.2 442.95H76.2" stroke="#7a7a7a" stroke-width="0.6"/>
<rect x="73" y="579" width="25.25" height="5" fill="#fff"/>
<rect x="75.3" y="580.65" width="20.65" height="1.7" fill="#d2d2d2"/>
<path d="M73 579.45H98.25M73 583.55H98.25" stroke="#8a8a8a" stroke-width="0.9"/>
<path d="M75.3 579V584M95.95 579V584" stroke="#7a7a7a" stroke-width="0.6"/>
<rect x="243" y="128.5" width="51" height="5.5" fill="#fff"/>
<rect x="245.3" y="130.4" width="46.4" height="1.7" fill="#d2d2d2"/>
<path d="M243 128.95H294M243 133.55H294" stroke="#8a8a8a" stroke-width="0.9"/>
<path d="M245.3 128.5V134M291.7 128.5V134" stroke="#7a7a7a" stroke-width="0.6"/>
<rect x="324" y="69.5" width="21" height="5.5" fill="#fff"/>
<rect x="326.3" y="71.4" width="16.4" height="1.7" fill="#d2d2d2"/>
<path d="M324 69.95H345M324 74.55H345" stroke="#8a8a8a" stroke-width="0.9"/>
<path d="M326.3 69.5V75M342.7 69.5V75" stroke="#7a7a7a" stroke-width="0.6"/>
<rect x="362.75" y="69.5" width="48" height="5.5" fill="#fff"/>
<rect x="365.05" y="71.4" width="43.4" height="1.7" fill="#d2d2d2"/>
<path d="M362.75 69.95H410.75M362.75 74.55H410.75" stroke="#8a8a8a" stroke-width="0.9"/>
<path d="M365.05 69.5V75M408.45 69.5V75" stroke="#7a7a7a" stroke-width="0.6"/>
<rect x="529" y="18" width="63.75" height="5" fill="#fff"/>
<rect x="531.3" y="19.65" width="59.15" height="1.7" fill="#d2d2d2"/>
<path d="M529 18.45H592.75M529 22.55H592.75" stroke="#8a8a8a" stroke-width="0.9"/>
<path d="M531.3 18V23M590.45 18V23" stroke="#7a7a7a" stroke-width="0.6"/>
<rect x="711.25" y="72" width="47.5" height="5.75" fill="#fff"/>
<rect x="713.55" y="74.03" width="42.9" height="1.7" fill="#d2d2d2"/>
<path d="M711.25 72.45H758.75M711.25 77.3H758.75" stroke="#8a8a8a" stroke-width="0.9"/>
<path d="M713.55 72V77.75M756.45 72V77.75" stroke="#7a7a7a" stroke-width="0.6"/>
<rect x="770.75" y="72" width="25.5" height="5.75" fill="#fff"/>
<rect x="773.05" y="74.03" width="20.9" height="1.7" fill="#d2d2d2"/>
<path d="M770.75 72.45H796.25M770.75 77.3H796.25" stroke="#8a8a8a" stroke-width="0.9"/>
<path d="M773.05 72V77.75M793.95 72V77.75" stroke="#7a7a7a" stroke-width="0.6"/>
<rect x="372" y="578.75" width="25.5" height="5.25" fill="#fff"/>
<rect x="374.3" y="580.52" width="20.9" height="1.7" fill="#d2d2d2"/>
<path d="M372 579.2H397.5M372 583.55H397.5" stroke="#8a8a8a" stroke-width="0.9"/>
<path d="M374.3 578.75V584M395.2 578.75V584" stroke="#7a7a7a" stroke-width="0.6"/>
<rect x="471.5" y="633.75" width="20.25" height="5.5" fill="#fff"/>
<rect x="473.8" y="635.65" width="15.65" height="1.7" fill="#d2d2d2"/>
<path d="M471.5 634.2H491.75M471.5 638.8H491.75" stroke="#8a8a8a" stroke-width="0.9"/>
<path d="M473.8 633.75V639.25M489.45 633.75V639.25" stroke="#7a7a7a" stroke-width="0.6"/>
<rect x="625.25" y="633.75" width="20.25" height="5.5" fill="#fff"/>
<rect x="627.55" y="635.65" width="15.65" height="1.7" fill="#d2d2d2"/>
<path d="M625.25 634.2H645.5M625.25 638.8H645.5" stroke="#8a8a8a" stroke-width="0.9"/>
<path d="M627.55 633.75V639.25M643.2 633.75V639.25" stroke="#7a7a7a" stroke-width="0.6"/>
<rect x="701.25" y="579" width="51.25" height="5" fill="#fff"/>
<rect x="703.55" y="580.65" width="46.65" height="1.7" fill="#d2d2d2"/>
<path d="M701.25 579.45H752.5M701.25 583.55H752.5" stroke="#8a8a8a" stroke-width="0.9"/>
<path d="M703.55 579V584M750.2 579V584" stroke="#7a7a7a" stroke-width="0.6"/>
</g>
<g fill="none" stroke="#444" stroke-width="0.8">
<path d="M773.75 580.2H993.4M773.75 583.6H993.4M990.6 545V583.6M993.4 545V583.6"/>
<rect x="874.3" y="575" width="25.4" height="8.6" fill="#fff"/>
<rect x="981.3" y="575" width="12.1" height="8.6" fill="#fff"/>
</g>
<g fill="#000"><circle cx="881.75" cy="579.5" r="3.9"/><circle cx="893.1" cy="579.5" r="3.9"/><circle cx="987.5" cy="579.5" r="3.9"/></g>
<text x="962.6" y="389.6" font-family="'Liberation Sans', sans-serif" font-weight="bold" font-size="16.5" fill="#777" fill-opacity="0.2" textLength="59.5" lengthAdjust="spacingAndGlyphs" style="filter:blur(0.5px)">Stellar MLS</text>
<path d="M726.3 579V584" stroke="#7a7a7a" stroke-width="0.7"/>
<g font-family="'Liberation Sans', 'DejaVu Sans', sans-serif" font-size="12.8" fill="#1c1c1c" stroke="#1c1c1c" stroke-width="0.2">
<g font-weight="bold"><text x="458.96" y="686.3" textLength="42.5" lengthAdjust="spacingAndGlyphs">TOTAL:</text><text x="504.62" y="686.3" textLength="27.74" lengthAdjust="spacingAndGlyphs">7865</text><text x="535.51" y="686.3" textLength="17.19" lengthAdjust="spacingAndGlyphs">sq.</text><text x="555.86" y="686.3" textLength="9.98" lengthAdjust="spacingAndGlyphs">ft</text></g>
<text x="394.47" y="700.8" textLength="39.01" lengthAdjust="spacingAndGlyphs">FLOOR</text><text x="436.64" y="700.8" textLength="10.18" lengthAdjust="spacingAndGlyphs">1:</text><text x="449.97" y="700.8" textLength="27.79" lengthAdjust="spacingAndGlyphs">4074</text><text x="480.92" y="700.8" textLength="16.47" lengthAdjust="spacingAndGlyphs">sq.</text><text x="500.55" y="700.8" textLength="11.46" lengthAdjust="spacingAndGlyphs">ft,</text><text x="515.17" y="700.8" textLength="39.01" lengthAdjust="spacingAndGlyphs">FLOOR</text><text x="557.34" y="700.8" textLength="10.18" lengthAdjust="spacingAndGlyphs">2:</text><text x="570.67" y="700.8" textLength="27.79" lengthAdjust="spacingAndGlyphs">3791</text><text x="601.62" y="700.8" textLength="16.47" lengthAdjust="spacingAndGlyphs">sq.</text><text x="621.25" y="700.8" textLength="8.48" lengthAdjust="spacingAndGlyphs">ft</text>
<text x="264.48" y="715.5" textLength="61.06" lengthAdjust="spacingAndGlyphs">EXCLUDED</text><text x="328.7" y="715.5" textLength="39.55" lengthAdjust="spacingAndGlyphs">AREAS:</text><text x="371.4" y="715.5" textLength="62.89" lengthAdjust="spacingAndGlyphs">FIREPLACE:</text><text x="437.45" y="715.5" textLength="13.89" lengthAdjust="spacingAndGlyphs">10</text><text x="454.5" y="715.5" textLength="16.47" lengthAdjust="spacingAndGlyphs">sq.</text><text x="474.13" y="715.5" textLength="11.46" lengthAdjust="spacingAndGlyphs">ft,</text><text x="488.75" y="715.5" textLength="58.19" lengthAdjust="spacingAndGlyphs">BALCONY:</text><text x="550.1" y="715.5" textLength="13.89" lengthAdjust="spacingAndGlyphs">79</text><text x="567.15" y="715.5" textLength="16.47" lengthAdjust="spacingAndGlyphs">sq.</text><text x="586.78" y="715.5" textLength="11.46" lengthAdjust="spacingAndGlyphs">ft,</text><text x="601.4" y="715.5" textLength="32.69" lengthAdjust="spacingAndGlyphs">OPEN</text><text x="637.25" y="715.5" textLength="16.18" lengthAdjust="spacingAndGlyphs">TO</text><text x="656.59" y="715.5" textLength="44.88" lengthAdjust="spacingAndGlyphs">BELOW:</text><text x="704.63" y="715.5" textLength="20.84" lengthAdjust="spacingAndGlyphs">380</text><text x="728.62" y="715.5" textLength="16.47" lengthAdjust="spacingAndGlyphs">sq.</text><text x="748.25" y="715.5" textLength="11.46" lengthAdjust="spacingAndGlyphs">ft,</text>
<text x="463.64" y="730" textLength="41.45" lengthAdjust="spacingAndGlyphs">WALLS:</text><text x="508.25" y="730" textLength="20.84" lengthAdjust="spacingAndGlyphs">352</text><text x="532.25" y="730" textLength="16.47" lengthAdjust="spacingAndGlyphs">sq.</text><text x="551.88" y="730" textLength="8.48" lengthAdjust="spacingAndGlyphs">ft</text>
</g>
<g font-family="'Liberation Sans', 'DejaVu Sans', sans-serif" font-size="7.7" fill="#1c1c1c" stroke="#1c1c1c" stroke-width="0.25">
<text x="403.23" y="749.3" textLength="55.4" lengthAdjust="spacingAndGlyphs">MEASUREMENTS</text><text x="460.46" y="749.3" textLength="12.74" lengthAdjust="spacingAndGlyphs">ARE</text><text x="475.03" y="749.3" textLength="28.41" lengthAdjust="spacingAndGlyphs">DEEMED</text><text x="505.27" y="749.3" textLength="25.11" lengthAdjust="spacingAndGlyphs">HIGHLY</text><text x="532.21" y="749.3" textLength="30.51" lengthAdjust="spacingAndGlyphs">RELIABLE</text><text x="564.56" y="749.3" textLength="13.6" lengthAdjust="spacingAndGlyphs">BUT</text><text x="579.99" y="749.3" textLength="14.71" lengthAdjust="spacingAndGlyphs">NOT</text><text x="596.53" y="749.3" textLength="45.74" lengthAdjust="spacingAndGlyphs">GUARANTEED</text>
</g>
</svg>
</body>
</html>
